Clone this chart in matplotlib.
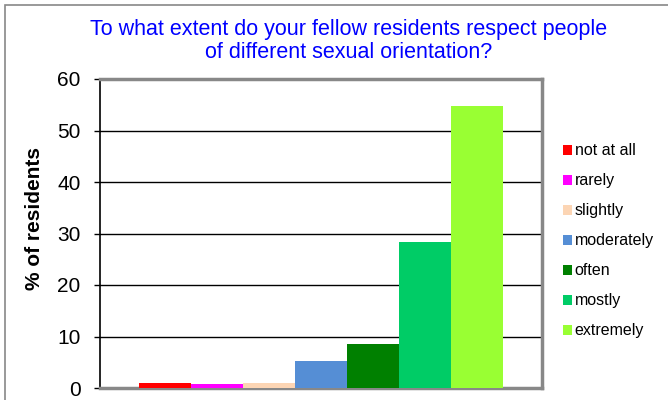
import matplotlib
matplotlib.use('Agg')
import matplotlib.pyplot as plt
from matplotlib.patches import Rectangle, Patch

plt.rcParams['font.family'] = ['Liberation Sans', 'DejaVu Sans']

# survey answers, % of residents
categories = ['not at all', 'rarely', 'slightly', 'moderately', 'often', 'mostly', 'extremely']
percent = [1.0, 0.8, 1.0, 5.2, 8.5, 28.4, 54.8]
colors = ['#ff0000', '#ff00ff', '#fcd5b4', '#558ed5', '#008000', '#00cc66', '#99ff33']
yticks = [0, 10, 20, 30, 40, 50, 60]

fig = plt.figure(figsize=(6.68, 4.0), dpi=100)
fig.patches.append(Rectangle((5 / 668, -0.1), 1.2, 1.1 - 5 / 400, transform=fig.transFigure,
                             fill=False, edgecolor='#888888', lw=1.2))

ax = fig.add_axes([100 / 668, 1 - 388 / 400, 442 / 668, 309 / 400])
x = list(range(len(categories)))
ax.bar(x, percent, width=1.0, color=colors, zorder=3)

ax.set_xlim(-1.25, 7.25)
ax.set_ylim(0, 60)
ax.set_yticks(yticks)
ax.set_xticks([])
ax.tick_params(axis='y', labelsize=15, length=4, direction='out', width=1, pad=10)
for t in yticks[1:-1]:
    ax.axhline(t, color='black', lw=1, zorder=1)

ax.spines['left'].set_color('black')
ax.spines['left'].set_linewidth(1.2)
ax.spines['bottom'].set_color('#888888')
ax.spines['bottom'].set_linewidth(2.5)
ax.spines['top'].set_color('#888888')
ax.spines['top'].set_linewidth(2.5)
ax.spines['right'].set_color('#888888')
ax.spines['right'].set_linewidth(2.5)

fig.text(35 / 668, 1 - 219 / 400, '% of residents', rotation=90, ha='center', va='center',
         fontsize=15, fontweight='bold')

fig.text(349 / 668, 1 - 41 / 400,
         'To what extent do your fellow residents respect people\nof different sexual orientation?',
         ha='center', va='center', color='#0000ff', fontsize=15.5, linespacing=1.15)

handles = [Patch(facecolor=c, edgecolor='none') for c in colors]
fig.legend(handles, categories, loc='upper left', bbox_to_anchor=(557 / 668, 1 - 137 / 400),
           frameon=False, fontsize=11.5, handlelength=0.56, handleheight=0.56,
           handletextpad=0.15, labelspacing=0.94, borderaxespad=0)

fig.savefig('out.png', dpi=100)
